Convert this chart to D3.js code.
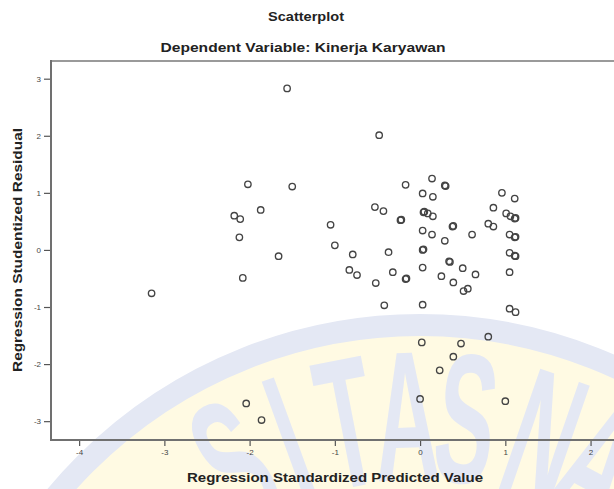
<!DOCTYPE html>
<html><head><meta charset="utf-8">
<script src="https://cdn.jsdelivr.net/npm/d3@7"></script>
<style>
body{margin:0;background:#fff}
svg{display:block}
text{font-family:"Liberation Sans",Arial,sans-serif}
</style>
</head><body>
<svg id="c" width="614" height="489"></svg>
<script>
// ---- data ----
const predicted = [
  -1.56,-2.02,-1.50,-1.87,-2.18,-2.11,-2.12,-1.66,-2.08,-3.15,-2.04,-1.86,
  -0.48,-0.17,0.14,0.29,0.30,0.03,0.15,-0.53,-0.43,0.04,0.05,0.09,0.15,
  -0.23,-0.22,0.38,0.39,-1.05,0.03,0.14,0.29,-1.00,-0.79,-0.37,0.03,0.04,
  0.34,0.35,0.50,-0.83,-0.74,-0.32,-0.17,-0.16,-0.52,0.03,0.25,0.39,-0.42,0.03,
  0.96,1.11,0.86,1.01,1.06,1.11,1.12,0.61,0.80,0.86,1.05,1.12,1.11,1.05,1.12,1.11,
  0.65,0.51,0.56,1.05,1.05,1.12,0.02,0.48,0.39,0.23,0.80,0.00,1.00
];
const residual = [
  2.83,1.15,1.11,0.70,0.60,0.54,0.22,-0.11,-0.49,-0.76,-2.69,-2.98,
  2.01,1.14,1.25,1.13,1.12,0.99,0.93,0.75,0.68,0.66,0.67,0.64,0.59,
  0.52,0.53,0.41,0.42,0.44,0.34,0.27,0.16,0.08,-0.08,-0.04,0.00,0.01,
  -0.20,-0.21,-0.32,-0.35,-0.44,-0.39,-0.51,-0.50,-0.58,-0.31,-0.46,-0.57,-0.97,-0.96,
  1.00,0.90,0.74,0.64,0.59,0.55,0.56,0.27,0.46,0.41,0.27,0.23,0.22,-0.05,-0.11,-0.10,
  -0.43,-0.72,-0.68,-0.39,-1.03,-1.09,-1.62,-1.64,-1.87,-2.11,-1.52,-2.61,-2.65
];
const xTicks = [-4,-3,-2,-1,0,1,2];
const yTicks = [-3,-2,-1,0,1,2,3];
const titleText = "Scatterplot";
const subtitleText = "Dependent Variable: Kinerja Karyawan";
const xLabelText = "Regression Standardized Predicted Value";
const yLabelText = "Regression Studentized Residual";
const watermarkLetters = ["S","I","T","A","S","N","A"];
const watermarkAngles = [-29,-20,-11,-2,7,19,28];

// ---- drawing ----
const svg = d3.select("#c");
const W = 614, H = 489;
const plotLeft = 51, plotTop = 61, plotBottom = 440, plotRight = 640;

const x = d3.scaleLinear().domain([-4.33, 2.58]).range([plotLeft, plotRight]);
const y = d3.scaleLinear().domain([-3.33, 3.31]).range([plotBottom, plotTop]);

// watermark (background)
const wm = svg.append("g");
const wcx = 420, wcy = 798;
wm.append("circle").attr("cx", wcx).attr("cy", wcy).attr("r", 473)
  .attr("fill", "#fffae3").attr("stroke", "#e4e8f4").attr("stroke-width", 22);
watermarkLetters.forEach((ch, i) => {
  wm.append("text")
    .attr("transform", `translate(${wcx},${wcy}) rotate(${watermarkAngles[i]}) translate(0,-318) scale(0.48,1)`)
    .attr("text-anchor", "middle")
    .attr("font-size", 185)
    .attr("font-weight", "bold")
    .attr("fill", "#e4e8f4")
    .text(ch);
});

// top frame line
svg.append("line").attr("x1", plotLeft).attr("x2", W).attr("y1", plotTop).attr("y2", plotTop)
  .attr("stroke", "#9a9a9a").attr("stroke-width", 2);

// axes
const yAxis = svg.append("g").attr("transform", `translate(${plotLeft},0)`)
  .call(d3.axisLeft(y).tickValues(yTicks).tickSize(7).tickSizeOuter(0).tickPadding(3)
    .tickFormat(d => String(d)));
yAxis.select(".domain").remove();
yAxis.selectAll(".tick line").attr("stroke", "#555").attr("stroke-width", 1.2);
yAxis.selectAll(".tick text").attr("font-size", 8).attr("fill", "#444")
  .attr("font-family", '"Liberation Sans",Arial,sans-serif');
svg.append("line").attr("x1", plotLeft).attr("x2", plotLeft).attr("y1", plotTop - 1).attr("y2", plotBottom + 1)
  .attr("stroke", "#707070").attr("stroke-width", 2);

const xAxis = svg.append("g").attr("transform", `translate(0,${plotBottom})`)
  .call(d3.axisBottom(x).tickValues(xTicks).tickSize(6).tickSizeOuter(0).tickPadding(3)
    .tickFormat(d => String(d)));
xAxis.select(".domain").remove();
xAxis.selectAll(".tick line").attr("stroke", "#555").attr("stroke-width", 1.2);
xAxis.selectAll(".tick text").attr("font-size", 8).attr("fill", "#444")
  .attr("font-family", '"Liberation Sans",Arial,sans-serif');
svg.append("line").attr("x1", plotLeft - 1).attr("x2", W).attr("y1", plotBottom).attr("y2", plotBottom)
  .attr("stroke", "#707070").attr("stroke-width", 2);

// points
const pts = predicted.map((p, i) => ({p, r: residual[i]}));
svg.append("g").selectAll("circle").data(pts).join("circle")
  .attr("cx", d => x(d.p)).attr("cy", d => y(d.r)).attr("r", 3.2)
  .attr("fill", "none").attr("stroke", "#444").attr("stroke-width", 1.35);

// titles
svg.append("text").attr("x", 306).attr("y", 21).attr("text-anchor", "middle")
  .attr("font-size", 13).attr("font-weight", "bold").attr("fill", "#222")
  .attr("textLength", 76).attr("lengthAdjust", "spacingAndGlyphs").text(titleText);
svg.append("text").attr("x", 303).attr("y", 52).attr("text-anchor", "middle")
  .attr("font-size", 13).attr("font-weight", "bold").attr("fill", "#222")
  .attr("textLength", 285).attr("lengthAdjust", "spacingAndGlyphs").text(subtitleText);
svg.append("text").attr("x", 335).attr("y", 482).attr("text-anchor", "middle")
  .attr("font-size", 12.5).attr("font-weight", "bold").attr("fill", "#222")
  .attr("textLength", 296).attr("lengthAdjust", "spacingAndGlyphs").text(xLabelText);
svg.append("text").attr("transform", "translate(22,250) rotate(-90)").attr("text-anchor", "middle")
  .attr("font-size", 12.5).attr("font-weight", "bold").attr("fill", "#222")
  .attr("textLength", 244).attr("lengthAdjust", "spacingAndGlyphs").text(yLabelText);
</script>
</body></html>
